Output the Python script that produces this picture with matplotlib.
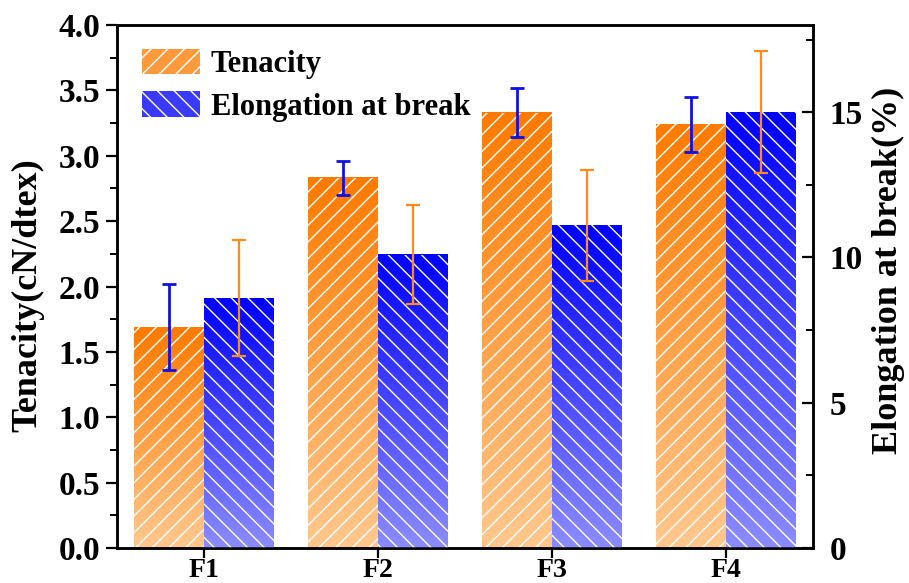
import matplotlib
matplotlib.use("Agg")
import matplotlib.pyplot as plt
import numpy as np
from matplotlib.colors import LinearSegmentedColormap
from matplotlib.patches import Patch

# data
samples = ["F1", "F2", "F3", "F4"]
tenacity = [1.69, 2.83, 3.33, 3.24]
tenacity_err = [0.33, 0.13, 0.19, 0.21]
elongation = [8.6, 10.1, 11.1, 15.0]
elongation_err = [2.0, 1.7, 1.9, 2.1]

plt.rcParams['font.family'] = ['Liberation Serif', 'DejaVu Serif']
plt.rcParams['font.weight'] = 'bold'
plt.rcParams['hatch.linewidth'] = 1.0

ORANGE_TOP, ORANGE_BOT = '#FF7A00', '#FFC88E'
BLUE_TOP, BLUE_BOT = '#0000FF', '#8C8CFF'


def gradient_fill(ax, bars, top, bottom):
    cmap = LinearSegmentedColormap.from_list('g', [bottom, top])
    grad = np.linspace(0, 1, 256).reshape(-1, 1)
    for b in bars:
        x0, y0 = b.get_xy()
        ax.imshow(grad, cmap=cmap, origin='lower', aspect='auto',
                  extent=[x0, x0 + b.get_width(), y0, y0 + b.get_height()],
                  zorder=1, interpolation='bilinear')


fig = plt.figure(figsize=(9.09, 5.83), dpi=100)
ax = fig.add_axes([0.1287, 0.06, 0.7657, 0.8971])
ax2 = ax.twinx()

x = np.arange(1, len(samples) + 1)
w = 0.4

b1 = ax.bar(x - w / 2, tenacity, w, facecolor='none', edgecolor='white',
            hatch='//', linewidth=0, zorder=2)
gradient_fill(ax, b1, ORANGE_TOP, ORANGE_BOT)
ax.errorbar(x - w / 2, tenacity, yerr=tenacity_err, fmt='none',
            ecolor='#1010E0', elinewidth=2, capsize=5, capthick=2, zorder=3)

b2 = ax2.bar(x + w / 2, elongation, w, facecolor='none', edgecolor='white',
             hatch='\\\\', linewidth=0, zorder=2)
gradient_fill(ax2, b2, BLUE_TOP, BLUE_BOT)
ax2.errorbar(x + w / 2, elongation, yerr=elongation_err, fmt='none',
             ecolor='#FF8C1A', elinewidth=1.6, capsize=5, capthick=1.6, zorder=3)

ax.set_xlim(0.5, 4.5)
ax.set_ylim(0, 4.0)
ax2.set_ylim(0, 18)
ax2.set_xlim(0.5, 4.5)

ax.set_xticks(x)
ax.set_xticklabels(samples)
ax.set_yticks(np.arange(0, 4.01, 0.5))
ax.set_yticks(np.arange(0, 4.01, 0.25), minor=True)
ax2.set_yticks([0, 5, 10, 15])
ax2.set_yticks(np.arange(0, 18.01, 2.5), minor=True)

for a in (ax, ax2):
    for s in a.spines.values():
        s.set_linewidth(1.8)
    a.tick_params(which='major', length=8, width=1.6, labelsize=24)
    a.tick_params(which='minor', length=5, width=1.4)
ax.tick_params(which='both', direction='out')
ax2.tick_params(which='both', direction='in', pad=12)
ax.tick_params(axis='y', pad=4)
ax.tick_params(axis='x', which='minor', bottom=False)
ax.tick_params(axis='x', labelsize=20, pad=0, length=7)
ax.yaxis.set_major_formatter(matplotlib.ticker.FormatStrFormatter('%.1f'))

ax.set_ylabel('Tenacity(cN/dtex)', fontsize=26, fontweight='bold')
ax2.set_ylabel('Elongation at break(%)', fontsize=26, fontweight='bold')
ax.yaxis.set_label_coords(-0.104, 0.484)
ax2.yaxis.set_label_coords(1.084, 0.53)

handles = [Patch(facecolor='#FF9A3C', edgecolor='white', hatch='//', linewidth=0),
           Patch(facecolor='#3A3AFF', edgecolor='white', hatch='\\\\', linewidth=0)]
ax.legend(handles, ['Tenacity', 'Elongation at break'], loc='upper left',
          frameon=False, fontsize=22, handlelength=1.9, handleheight=0.9,
          borderaxespad=0.3, labelspacing=0.4, handletextpad=0.35,
          bbox_to_anchor=(0.005, 0.995))

fig.savefig('out.png', dpi=100)
